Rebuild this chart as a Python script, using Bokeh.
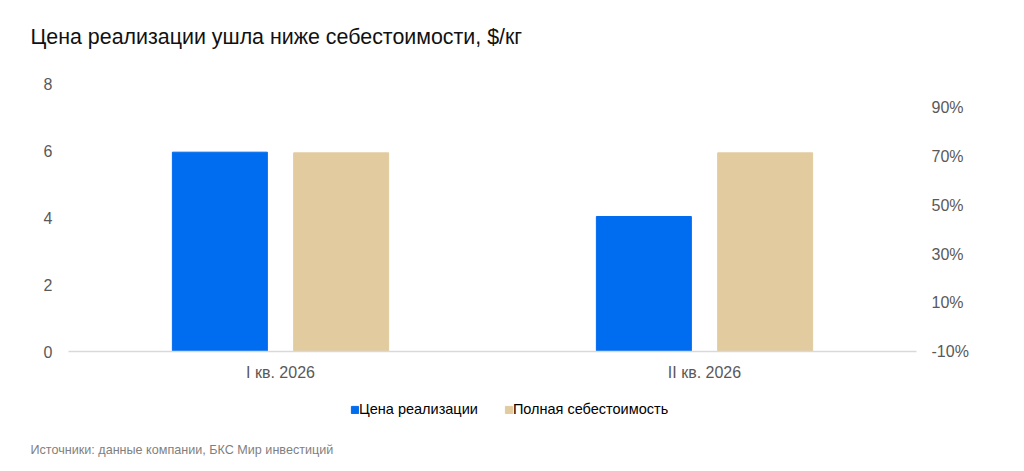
from bokeh.plotting import figure
from bokeh.layouts import column
from bokeh.models import (FactorRange, Range1d, LinearAxis, FixedTicker,
                          NumeralTickFormatter, Label, Legend, LegendItem)
from bokeh.transform import dodge
from bokeh.embed import file_html
from bokeh.resources import INLINE

categories = ["I кв. 2026", "II кв. 2026"]
price = [5.95, 4.03]
full_cost = [5.93, 5.93]
series_names = ["Цена реализации", "Полная себестоимость"]
left_ticks = [0, 2, 4, 6, 8]
right_ticks = [-0.1, 0.1, 0.3, 0.5, 0.7, 0.9]
title_text = "Цена реализации ушла ниже себестоимости, $/кг"
source_text = "Источники: данные компании, БКС Мир инвестиций"

FONT = "Liberation Sans"
BLUE = "#006cef"
BEIGE = "#e2cb9f"
GREY = "#595959"
W = 1024

data = dict(cat=categories, price=price, cost=full_cost)


def blank(height, x_range=None, y_range=None):
    f = figure(width=W, height=height,
               x_range=x_range if x_range is not None else Range1d(0, 1),
               y_range=y_range if y_range is not None else Range1d(0, 1),
               x_axis_type=None, y_axis_type=None,
               output_backend="svg", toolbar_location=None,
               min_border=0, frame_align=False)
    f.outline_line_color = None
    f.grid.visible = False
    f.border_fill_color = "white"
    f.background_fill_color = "white"
    return f


# ---- top: title ----
top = blank(60)
top.add_layout(Label(x=30, y=24, x_units="screen", y_units="screen",
                     text=title_text, text_font=FONT, text_font_size="21.4px",
                     text_color="#111111", text_baseline="middle"))

# ---- main chart ----
p = figure(x_range=FactorRange(*categories), y_range=Range1d(0, 8),
           width=W, height=325,
           output_backend="svg", toolbar_location=None,
           min_border_left=68, min_border_right=108, min_border_top=23,
           min_border_bottom=34, frame_align=False)
p.outline_line_color = None
p.grid.visible = False
p.background_fill_color = "white"
p.border_fill_color = "white"

p.vbar(x=dodge("cat", -0.143, range=p.x_range), top="price", width=0.224,
       source=data, color=BLUE)
p.vbar(x=dodge("cat", 0.143, range=p.x_range), top="cost", width=0.224,
       source=data, color=BEIGE)


def style_axis(ax, size, standoff):
    ax.major_tick_line_color = None
    ax.minor_tick_line_color = None
    ax.major_tick_out = 0
    ax.minor_tick_out = 0
    ax.major_tick_in = 0
    ax.minor_tick_in = 0
    ax.major_label_text_font = FONT
    ax.major_label_text_font_size = size
    ax.major_label_text_color = GREY
    ax.major_label_standoff = standoff


ya = p.yaxis[0]
ya.ticker = FixedTicker(ticks=left_ticks)
ya.axis_line_color = None
style_axis(ya, "16px", 16)

p.extra_y_ranges = {"pct": Range1d(-0.1, 1.0)}
ra = LinearAxis(y_range_name="pct", ticker=FixedTicker(ticks=right_ticks),
                formatter=NumeralTickFormatter(format="0%"))
ra.axis_line_color = None
style_axis(ra, "16px", 15)
p.add_layout(ra, "right")

xa = p.xaxis[0]
xa.axis_line_color = "#d9d9d9"
xa.axis_line_width = 1.5
style_axis(xa, "16px", 12)

# ---- bottom: legend + source ----
# legend proxies: the same bars, placed below this strip's visible range
bot = blank(86, x_range=FactorRange(*categories), y_range=Range1d(100, 101))
r1 = bot.vbar(x=dodge("cat", -0.143, range=bot.x_range), top="price",
              width=0.224, source=data, color=BLUE)
r2 = bot.vbar(x=dodge("cat", 0.143, range=bot.x_range), top="cost",
              width=0.224, source=data, color=BEIGE)
leg = Legend(items=[LegendItem(label=series_names[0], renderers=[r1]),
                    LegendItem(label=series_names[1], renderers=[r2])],
             orientation="horizontal", location=(350, 54),
             border_line_color=None, background_fill_alpha=0,
             glyph_width=9, glyph_height=9, label_standoff=0, spacing=26,
             padding=0, margin=0, label_text_font=FONT,
             label_text_font_size="14.5px", label_text_color="#000000",
             label_height=16)
bot.add_layout(leg, "center")
bot.add_layout(Label(x=30, y=22, x_units="screen", y_units="screen",
                     text=source_text, text_font=FONT, text_font_size="12.6px",
                     text_color="#7f7f7f", text_baseline="middle"))

layout = column(top, p, bot, spacing=0)
open("out.html", "w").write(file_html(layout, INLINE))
